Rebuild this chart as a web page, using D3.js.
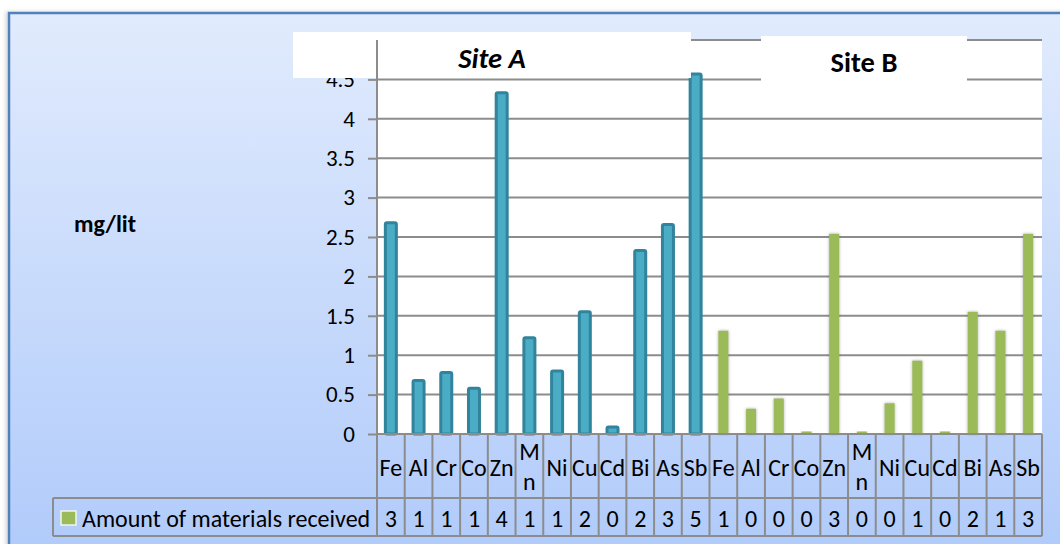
<!DOCTYPE html>
<html>
<head>
<meta charset="utf-8">
<script src="https://cdn.jsdelivr.net/npm/d3@7/dist/d3.min.js"></script>
<style>
  html, body { margin: 0; padding: 0; background: #ffffff; }
  svg { display: block; }
  text { font-family: Carlito, Lato, "Open Sans", sans-serif; fill: #000; }
</style>
</head>
<body>
<svg id="chart" width="1060" height="544"></svg>
<script>
// Metals measured at each site (same order for both sites)
const metals = ["Fe", "Al", "Cr", "Co", "Zn", "Mn", "Ni", "Cu", "Cd", "Bi", "As", "Sb"];
// Concentrations, mg/lit
const siteA = [2.68, 0.68, 0.78, 0.58, 4.33, 1.22, 0.80, 1.55, 0.09, 2.33, 2.66, 4.57];
const siteB = [1.31, 0.32, 0.45, 0.03, 2.54, 0.03, 0.39, 0.93, 0.03, 1.55, 1.31, 2.54];
const siteTitles = ["Site A", "Site B"];
const seriesName = "Amount of materials received";
const yLabel = "mg/lit";
const yTicks = [0, 0.5, 1, 1.5, 2, 2.5, 3, 3.5, 4, 4.5, 5];

// One row per column of the chart: site A metals followed by site B metals
const rows = metals.map((m, i) => ({ key: "A" + i, metal: m, site: 0, value: siteA[i] }))
  .concat(metals.map((m, i) => ({ key: "B" + i, metal: m, site: 1, value: siteB[i] })));

const svg = d3.select("#chart");
const plot = { left: 377, right: 1042, top: 40, bottom: 434 };
const catRowBottom = 498, valRowBottom = 536, legendLeft = 53;
const gridColor = "#8c8c8c";
const tableFont = 24;

const defs = svg.append("defs");
const bg = defs.append("linearGradient").attr("id", "bg")
  .attr("x1", 0).attr("y1", 0).attr("x2", 0).attr("y2", 1);
bg.append("stop").attr("offset", "0%").attr("stop-color", "#e1ebfd");
bg.append("stop").attr("offset", "100%").attr("stop-color", "#a9c6fa");

const frameShadow = defs.append("filter").attr("id", "frameShadow")
  .attr("x", "-5%").attr("y", "-5%").attr("width", "110%").attr("height", "110%");
frameShadow.append("feDropShadow").attr("dx", -2).attr("dy", 0)
  .attr("stdDeviation", 2).attr("flood-color", "#000").attr("flood-opacity", 0.18);

const glow = defs.append("filter").attr("id", "glow")
  .attr("x", "-60%").attr("y", "-10%").attr("width", "220%").attr("height", "120%");
glow.append("feDropShadow").attr("dx", 0).attr("dy", 0)
  .attr("stdDeviation", 1.6).attr("flood-color", "#555").attr("flood-opacity", 0.5);

// Chart frame with gradient background
svg.append("rect")
  .attr("x", 9).attr("y", 13).attr("width", 1100).attr("height", 620)
  .attr("fill", "url(#bg)").attr("stroke", "#4f81bd").attr("stroke-width", 2.5)
  .attr("filter", "url(#frameShadow)");

// Scales
const x = d3.scaleBand().domain(rows.map(d => d.key)).range([plot.left, plot.right]).padding(0);
const y = d3.scaleLinear().domain([0, 5]).range([plot.bottom, plot.top]);

// Plot area
svg.append("rect")
  .attr("x", plot.left).attr("y", plot.top)
  .attr("width", plot.right - plot.left).attr("height", plot.bottom - plot.top)
  .attr("fill", "#ffffff");

// Horizontal gridlines
svg.append("g").selectAll("line").data(yTicks).join("line")
  .attr("x1", plot.left).attr("x2", plot.right)
  .attr("y1", d => y(d)).attr("y2", d => y(d))
  .attr("stroke", gridColor).attr("stroke-width", 2);

// Y axis
const yAxis = svg.append("g").attr("transform", `translate(${plot.left},0)`)
  .call(d3.axisLeft(y).tickValues(yTicks).tickFormat(d3.format("~f")).tickSize(9).tickPadding(13));
yAxis.select(".domain").remove();
yAxis.selectAll(".tick line").attr("stroke", gridColor).attr("stroke-width", 2);
yAxis.selectAll(".tick text")
  .attr("font-family", "Carlito, Lato, sans-serif").attr("font-size", 23).attr("fill", "#000");

// Site A bars
const bwA = 11;
svg.append("g").selectAll("rect").data(rows.filter(d => d.site === 0)).join("rect")
  .attr("x", d => x(d.key) + x.bandwidth() / 2 - bwA / 2)
  .attr("y", d => y(d.value))
  .attr("width", bwA)
  .attr("height", d => y(0) - y(d.value))
  .attr("rx", 1.5)
  .attr("fill", "#4bacc6").attr("stroke", "#31849b").attr("stroke-width", 3);

// Site B bars
const bwB = 10;
svg.append("g").selectAll("rect").data(rows.filter(d => d.site === 1)).join("rect")
  .attr("x", d => x(d.key) + x.bandwidth() / 2 - bwB / 2)
  .attr("y", d => y(d.value))
  .attr("width", bwB)
  .attr("height", d => y(0) - y(d.value))
  .attr("fill", "#9bbb59").attr("filter", "url(#glow)");

// Site title boxes
const titleBoxes = [
  { x: 293, y: 32, w: 398, h: 46, italic: true },
  { x: 761, y: 36, w: 206, h: 46, italic: false }
];
const tg = svg.append("g");
titleBoxes.forEach((b, i) => {
  tg.append("rect").attr("x", b.x).attr("y", b.y).attr("width", b.w).attr("height", b.h).attr("fill", "#fff");
  tg.append("text")
    .attr("x", b.x + b.w / 2).attr("y", b.y + 36)
    .attr("text-anchor", "middle")
    .attr("font-size", 28.5).attr("font-weight", "bold")
    .attr("font-style", b.italic ? "italic" : "normal")
    .text(siteTitles[i]);
});

// Y-axis title
svg.append("text").attr("x", 105).attr("y", 232).attr("text-anchor", "middle")
  .attr("font-size", 24).attr("font-weight", "bold").text(yLabel);

// Data table under the axis
const table = svg.append("g");
const fmt = d3.format(".0f");
const cellW = x.bandwidth();

// category labels (wrapped when wider than the cell)
rows.forEach(d => {
  const cx = x(d.key) + cellW / 2;
  const t = table.append("text").attr("x", cx).attr("y", 476).attr("text-anchor", "middle")
    .attr("font-size", tableFont).text(d.metal);
  if (t.node().getComputedTextLength() > cellW + 1) {
    t.remove();
    d.metal.split("").forEach((ch, j) => {
      table.append("text").attr("x", cx).attr("y", 460 + j * 30).attr("text-anchor", "middle")
        .attr("font-size", tableFont).text(ch);
    });
  }
  table.append("text").attr("x", cx).attr("y", 527).attr("text-anchor", "middle")
    .attr("font-size", tableFont).text(fmt(d.value));
});

// legend cell
table.append("rect").attr("x", 61).attr("y", 511).attr("width", 15).attr("height", 14)
  .attr("fill", "#9bbb59").attr("stroke", "#f2f5ea").attr("stroke-width", 1.5);
table.append("text").attr("x", 82).attr("y", 527).attr("font-size", tableFont).text(seriesName);

// table grid
const edges = rows.map(d => x(d.key)).concat([plot.right]);
table.selectAll("line.v").data(edges).join("line").attr("class", "v")
  .attr("x1", d => d).attr("x2", d => d).attr("y1", plot.bottom).attr("y2", valRowBottom)
  .attr("stroke", gridColor).attr("stroke-width", 2);
[[plot.left, plot.bottom], [legendLeft, catRowBottom], [legendLeft, valRowBottom]].forEach(([x0, yy]) => {
  table.append("line").attr("x1", x0).attr("x2", plot.right).attr("y1", yy).attr("y2", yy)
    .attr("stroke", gridColor).attr("stroke-width", 2);
});
table.append("line").attr("x1", legendLeft).attr("x2", legendLeft)
  .attr("y1", catRowBottom).attr("y2", valRowBottom).attr("stroke", gridColor).attr("stroke-width", 2);

// vertical axis line
svg.append("line").attr("x1", plot.left).attr("x2", plot.left)
  .attr("y1", plot.top).attr("y2", valRowBottom)
  .attr("stroke", gridColor).attr("stroke-width", 2);
</script>
</body>
</html>
